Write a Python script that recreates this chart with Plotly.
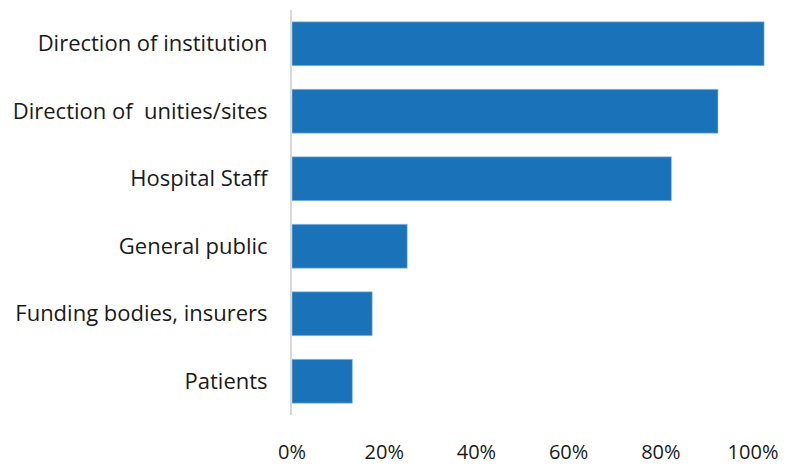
import plotly.graph_objects as go

# Categories listed top to bottom as in the chart
categories = [
    "Direction of institution",
    "Direction of  unities/sites",
    "Hospital Staff",
    "General public",
    "Funding bodies, insurers",
    "Patients",
]
# Share of respondents (%) read against the x axis ticks
values = [102.4, 92.4, 82.3, 25.0, 17.4, 13.1]
tick_vals = [0, 20, 40, 60, 80, 100]
tick_text = ["0%", "20%", "40%", "60%", "80%", "100%"]

fig = go.Figure()
fig.add_trace(go.Bar(
    x=values,
    y=categories,
    orientation="h",
    marker=dict(color="#1a72b8", line=dict(color="#9fc4e6", width=0.6)),
    width=0.65,
    hoverinfo="x+y",
))

# page body adds an 8px margin, so the figure is a bit smaller than the window
fig.update_layout(
    width=797,
    height=459,
    margin=dict(l=284, r=10, t=2, b=43),
    paper_bgcolor="white",
    plot_bgcolor="white",
    font=dict(family="Open Sans, sans-serif", size=20, color="#1a1a1a"),
    showlegend=False,
)
fig.update_xaxes(
    range=[0, 109.1],
    tickvals=tick_vals,
    ticktext=tick_text,
    tickfont=dict(size=20),
    showgrid=False,
    zeroline=False,
    showline=False,
    ticks="",
    ticklabelstandoff=23,
)
fig.update_yaxes(
    categoryorder="array",
    categoryarray=categories[::-1],
    range=[-0.5, 5.5],
    tickfont=dict(size=22),
    showgrid=False,
    zeroline=False,
    showline=True,
    linecolor="#d9d9d9",
    linewidth=2,
    ticks="",
    ticklabelstandoff=18,
)

fig.write_html("out.html")
